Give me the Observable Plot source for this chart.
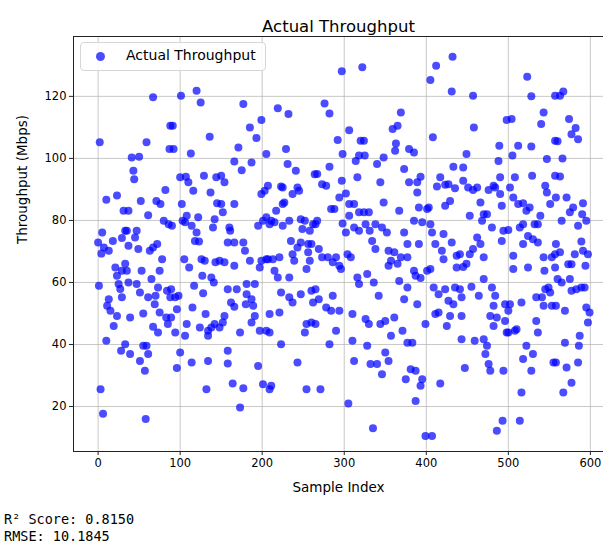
<!DOCTYPE html>
<html><head><meta charset="utf-8">
<script src="https://cdn.jsdelivr.net/npm/d3@7"></script>
<script src="https://cdn.jsdelivr.net/npm/@observablehq/plot@0.6"></script>
<style>
body{margin:0;background:#fff;font-family:"DejaVu Sans",sans-serif;}
#wrap{position:relative;width:603px;height:547px;overflow:hidden;}
#legend{position:absolute;left:80px;top:42px;width:186px;height:29px;border:1px solid #d6d6d6;border-radius:4px;background:rgba(255,255,255,0.85);box-sizing:border-box;font-size:14px;color:#000;}
#legend .dot{position:absolute;left:15px;top:9px;width:9px;height:9px;border-radius:50%;background:rgba(0,0,255,0.7);}
#legend .lab{position:absolute;left:45px;top:4px;white-space:nowrap;}
#stats{position:absolute;left:4px;top:511px;font-family:"DejaVu Sans Mono",monospace;font-size:13.5px;line-height:17px;color:#000;white-space:pre;}
</style></head>
<body><div id="wrap"><div id="chart"></div>
<div id="legend"><span class="dot"></span><span class="lab">Actual Throughput</span></div>
<div id="stats"></div></div>
<script>
const titleText = "Actual Throughput";
const xLabel = "Sample Index";
const yLabel = "Throughput (Mbps)";
const legendLabel = "Actual Throughput";
const statLines = ["R² Score: 0.8150", "RMSE: 10.1845"];
const xTicks = [0, 100, 200, 300, 400, 500, 600];
const yTicks = [20, 40, 60, 80, 100, 120];

const sampleIndex = [
2,10,23,31,33,5,0,7,13,18,29,21,23,29,25,27,1,13,11,15,23,19,29,10,28,3,6,4,
67,88,59,87,41,50,43,44,82,37,52,71,76,61,80,86,35,47,45,49,37,63,72,78,67,33,35,53,75,37,47,51,65,61,70,73,84,88,75,83,69,39,55,67,73,85,33,39,55,59,51,61,57,58,
101,120,125,91,136,92,113,100,107,129,144,110,116,137,102,145,108,122,90,103,106,142,140,114,120,118,123,126,130,143,105,111,127,138,141,117,128,89,94,98,96,115,131,89,108,94,106,124,134,138,142,134,100,96,114,134,132,
177,199,185,193,171,166,175,187,205,150,154,199,203,150,152,166,160,161,195,201,205,158,166,177,179,185,148,154,166,197,199,205,158,169,181,191,162,166,181,187,189,180,154,152,173,187,191,197,205,148,158,158,195,164,177,201,173,
219,232,229,231,241,264,207,223,225,237,243,245,227,225,217,211,209,215,225,233,247,252,249,262,258,235,247,243,237,239,256,260,256,258,254,207,213,221,215,219,233,223,233,237,247,260,262,209,221,209,252,254,260,223,243,211,209,254,
297,322,276,282,306,292,320,298,314,318,267,282,273,278,297,316,294,302,306,312,318,284,288,267,265,298,302,306,312,318,269,280,273,290,286,294,296,304,308,316,318,265,269,278,284,294,286,310,265,290,282,310,312,271,305,
369,359,365,363,362,324,325,340,348,373,379,344,348,367,379,324,330,326,338,346,352,331,334,338,373,377,354,361,357,354,369,377,365,328,336,342,367,373,377,326,330,344,350,361,371,357,377,328,350,354,332,340,346,375,381,335,
432,412,405,431,408,385,433,417,423,413,435,427,393,389,389,423,429,391,403,401,385,395,405,407,421,431,411,419,421,391,437,437,385,387,393,401,405,409,415,423,435,427,433,429,415,411,389,399,425,383,387,395,393,387,417,399,407,
457,458,498,489,449,445,488,490,445,451,457,462,476,482,484,490,492,466,468,470,474,453,480,494,492,462,466,457,453,470,441,449,445,470,455,464,480,484,482,441,443,443,478,486,482,496,496,498,443,459,470,474,472,476,478,447,494,486,493,
523,528,557,504,543,540,512,528,557,505,547,508,502,529,545,547,551,557,506,512,518,522,526,539,532,536,500,514,518,524,530,536,518,506,543,553,557,506,524,544,557,545,551,549,541,534,553,543,502,500,516,534,536,508,510,500,522,518,530,528,555,516,514,
567,563,574,582,577,585,560,566,563,558,571,579,575,591,565,590,585,595,589,591,597,594,558,563,581,577,573,560,565,575,577,583,589,593,558,569,595,599,597,569,587,586,558,571,585,577,567
];
const throughput = [
105.2,86.7,88.0,83.1,76.7,76.1,72.9,71.3,70.2,73.4,74.3,64.8,62.2,63.8,59.5,57.9,58.9,54.6,52.5,50.9,49.2,46.0,55.2,41.2,38.0,25.6,17.7,69.3,
119.7,110.5,105.2,103.0,100.3,100.5,96.0,93.3,89.8,83.1,86.3,86.3,85.3,81.7,79.9,78.8,76.7,76.7,74.5,70.8,71.8,70.2,72.4,67.5,71.3,66.0,63.8,63.8,63.8,60.0,59.5,56.8,61.1,55.2,55.7,58.4,57.3,55.2,50.3,48.7,53.0,48.7,50.0,45.7,43.9,46.6,40.1,36.9,39.6,39.6,34.7,36.9,31.5,16.0,
120.2,121.8,118.0,110.5,107.0,103.0,101.6,93.9,94.1,94.4,93.9,92.3,89.6,89.0,85.3,85.5,81.5,81.0,78.3,79.9,79.4,80.4,77.7,78.3,76.1,73.4,73.2,67.5,67.0,66.5,67.5,64.8,62.2,61.6,60.0,58.9,56.5,57.8,55.2,55.7,51.4,51.9,49.8,48.7,46.6,43.9,42.8,45.5,44.4,45.5,46.6,42.8,37.4,32.4,34.2,34.7,25.6,
117.5,112.4,110.0,106.6,103.5,99.0,96.2,98.7,101.4,94.4,92.3,88.5,89.6,85.3,82.6,85.3,77.7,76.7,78.3,79.9,81.0,72.9,72.9,72.9,70.2,67.0,67.0,66.5,65.4,64.8,67.0,67.5,57.8,57.8,59.5,59.5,53.5,52.2,56.2,54.6,52.5,53.0,49.2,47.1,43.9,47.1,49.2,44.4,44.4,45.5,38.0,33.9,33.1,27.4,25.9,27.2,19.7,
116.2,114.3,103.0,98.2,96.0,94.9,91.2,90.9,90.6,88.5,90.6,89.6,85.8,85.3,83.1,79.9,78.8,79.4,78.3,79.9,80.4,79.9,77.2,78.8,76.7,73.4,72.9,71.3,69.1,67.0,72.4,72.4,69.7,67.0,64.3,67.5,67.5,68.1,63.8,61.6,61.6,56.8,55.2,53.5,56.2,57.3,53.5,49.8,50.3,43.9,43.9,46.6,47.1,40.1,34.2,26.7,25.6,25.6,
128.1,129.4,117.7,114.5,109.1,105.9,105.7,101.4,99.2,100.9,95.0,97.3,91.7,91.2,92.8,93.9,87.4,88.7,85.3,85.3,82.6,83.7,83.7,79.9,78.8,79.0,76.1,81.5,77.7,76.7,70.8,68.1,68.1,68.1,66.5,65.4,64.3,69.1,68.1,61.6,59.5,57.8,54.6,51.9,50.9,50.9,55.7,49.8,46.6,44.4,40.1,41.2,34.7,25.6,21.0,
114.8,109.5,110.5,104.8,102.5,105.7,100.9,98.2,100.3,96.6,103.0,92.3,85.8,83.1,92.3,82.6,82.6,78.8,78.8,77.7,76.1,76.7,73.4,70.8,76.1,72.4,70.2,69.7,67.0,65.4,68.1,68.1,66.0,62.7,60.0,55.7,60.5,54.6,58.4,48.2,46.6,46.6,47.6,48.7,44.4,42.8,40.6,39.6,37.4,34.7,33.7,33.7,30.4,28.8,32.0,13.0,
132.8,129.9,125.3,121.6,106.8,101.9,97.3,93.9,91.5,90.9,90.4,91.7,94.1,92.3,89.0,84.7,86.3,84.2,84.2,83.7,79.9,79.4,78.8,76.1,75.6,72.9,72.4,70.2,67.5,72.4,68.6,64.8,63.8,62.2,61.4,63.8,64.3,58.4,56.2,57.8,58.4,54.1,53.0,49.2,50.3,49.8,53.0,46.6,46.0,40.6,31.5,28.8,26.7,21.8,27.4,10.5,10.5,
120.2,110.0,112.4,104.1,101.4,97.1,99.2,93.9,92.8,90.6,89.8,90.6,89.8,91.2,90.6,88.5,84.7,85.8,79.9,82.0,82.0,81.5,77.7,76.7,73.4,74.5,72.4,70.8,69.1,68.1,69.1,66.0,65.0,61.1,58.6,55.7,58.4,55.7,52.5,57.8,55.2,49.2,49.2,48.7,46.0,53.0,47.6,43.9,41.7,41.2,41.7,39.6,36.9,33.7,31.5,32.4,31.5,12.2,15.4,
126.3,120.0,120.2,112.7,114.8,111.1,104.1,103.8,105.7,100.9,99.8,93.9,90.6,94.4,91.2,89.0,85.3,94.4,87.4,85.3,85.5,83.1,84.2,81.5,78.8,78.8,76.9,77.7,78.8,75.0,73.9,72.9,72.4,68.6,68.1,68.1,69.1,64.3,64.8,63.8,64.8,57.8,56.8,58.4,55.2,55.2,52.5,52.5,53.0,50.9,53.5,47.6,43.9,44.4,44.9,43.9,39.6,35.3,36.9,31.5,34.2,24.5,15.4,
121.6,120.2,112.7,109.8,107.8,106.2,105.5,100.0,94.2,87.4,87.4,84.2,82.6,85.5,79.9,82.0,78.3,79.9,73.2,70.2,69.1,65.4,72.4,69.7,69.1,65.9,65.9,61.1,60.0,61.1,57.3,57.8,58.4,58.4,52.5,50.9,51.9,50.3,47.1,40.6,42.8,39.6,34.2,32.6,34.2,27.7,24.5
];

const n = Math.min(sampleIndex.length, throughput.length);
const data = d3.range(n).map(i => ({x: sampleIndex[i], y: throughput[i]}));

const chart = Plot.plot({
  width: 603, height: 500,
  marginLeft: 73, marginRight: 0, marginTop: 36, marginBottom: 49,
  style: {fontFamily: '"DejaVu Sans", sans-serif', fontSize: "11.5px", color: "#000", background: "#fff"},
  x: {domain: [-30, 616], label: null},
  y: {domain: [5.5, 139.3], label: null},
  marks: [
    Plot.gridX(xTicks, {stroke: "#b0b0b0", strokeOpacity: 0.7, strokeWidth: 1}),
    Plot.gridY(yTicks, {stroke: "#b0b0b0", strokeOpacity: 0.7, strokeWidth: 1}),
    Plot.dot(data, {x: "x", y: "y", r: 4, fill: "#0000ff", fillOpacity: 0.7, stroke: null}),
    Plot.frame({stroke: "#222", strokeWidth: 1}),
    Plot.axisX(xTicks, {tickSize: 4, tickPadding: 3, label: null, stroke: "#222"}),
    Plot.axisY(yTicks, {tickSize: 4, tickPadding: 3, label: null, stroke: "#222"}),
    Plot.text([titleText], {text: d => d, frameAnchor: "top", dy: -16, fontSize: 16.5, fill: "#000"}),
    Plot.text([xLabel], {text: d => d, frameAnchor: "bottom", dy: 40, fontSize: 13.5, fill: "#000"}),
    Plot.text([yLabel], {text: d => d, frameAnchor: "left", dx: -51, rotate: -90, fontSize: 13.5, fill: "#000"})
  ]
});
document.getElementById("chart").appendChild(chart);
document.querySelector("#legend .lab").textContent = legendLabel;
document.getElementById("stats").textContent = statLines.join("\n");
</script>
</body></html>
